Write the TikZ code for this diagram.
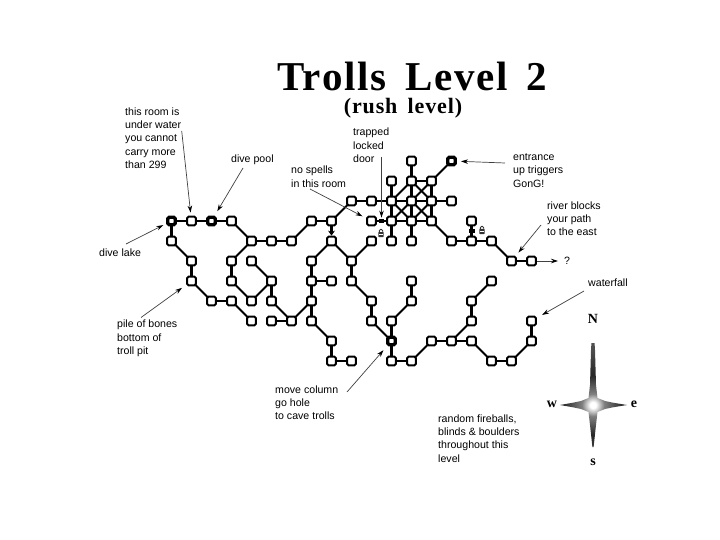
\documentclass[tikz,border=0pt]{standalone}
\usepackage{fontspec}
\setmainfont{Liberation Sans}
\newfontfamily\kserif{Liberation Serif}
\newfontfamily\ktitlefont[LetterSpace=4,WordSpace=1.6]{Liberation Serif}
\usetikzlibrary{arrows.meta,backgrounds}
\pgfdeclareradialshading{kstar}{\pgfpointorigin}{color(0bp)=(white);color(1.2bp)=(white);color(4.5bp)=(black!50);color(12bp)=(black!85);color(22bp)=(black!70);color(50bp)=(black!55)}
\tikzset{
  room/.style={draw,fill=white,line width=2pt,rounded corners=1.6pt,minimum size=8.8pt,inner sep=0pt},
  hotroom/.style={room,line width=3.3pt,minimum size=7.6pt},
  link/.style={line width=2.4pt},
  diag/.style={line width=1.8pt},
  pointer/.style={draw=black!75,line width=0.7pt,-{Stealth[length=7pt,width=4.5pt,black]}},
  note/.style={anchor=north west,inner sep=0pt,align=left,font=\fontsize{10.6}{13.3}\selectfont},
  doorbar/.style={fill=black,inner sep=0pt,minimum width=4.5pt,minimum height=4.5pt},
  compass/.style={inner sep=0pt,font=\kserif\bfseries\fontsize{14}{14}\selectfont},
  lockicon/.pic={
    \fill[black!80,rounded corners=.5pt](-2.6,-1)rectangle(2.6,4);
    \fill[white](-1.6,1)rectangle(1.6,2);
    \draw[black!80,line width=.9pt,rounded corners=1.3pt](-1.7,-1)--(-1.7,-3.7)--(1.7,-3.7)--(1.7,-1);
  }
}
\begin{document}
\begin{tikzpicture}[x=1pt,y=-1pt]
\pgfmathsetmacro{\kstep}{20}
\useasboundingbox(0,0)rectangle(720,540);
% rooms: column/row on the map grid
\foreach \kx/\ky in {12/0,11/1,12/1,13/1,9/2,10/2,11/2,12/2,13/2,14/2,1/3,3/3,7/3,8/3,10/3,11/3,12/3,13/3,15/3,
  0/4,4/4,5/4,6/4,8/4,10/4,11/4,12/4,14/4,15/4,16/4,1/5,3/5,4/5,7/5,9/5,17/5,18/5,
  1/6,3/6,5/6,7/6,8/6,9/6,12/6,16/6,2/7,3/7,4/7,5/7,7/7,10/7,12/7,15/7,
  4/8,5/8,6/8,7/8,10/8,11/8,15/8,18/8,8/9,13/9,14/9,15/9,18/9,8/10,9/10,11/10,12/10,16/10,17/10}{
  \node[room](n\kx-\ky) at (\kx*\kstep+171.5,\ky*\kstep+161){};
}
\foreach \kx/\ky in {14/0,0/3,2/3,11/9}{
  \node[hotroom](n\kx-\ky) at (\kx*\kstep+171.5,\ky*\kstep+161){};
}
\begin{scope}[on background layer]
% straight passages
\foreach \ka/\kb in {12-0/12-1,12-1/13-1,11-1/11-2,12-1/12-2,13-1/13-2,9-2/10-2,10-2/11-2,11-2/12-2,12-2/13-2,13-2/14-2,
  11-2/11-3,12-2/12-3,13-2/13-3,11-3/12-3,12-3/13-3,11-3/11-4,12-3/12-4,0-3/1-3,1-3/2-3,2-3/3-3,7-3/8-3,0-3/0-4,
  4-4/5-4,5-4/6-4,14-4/15-4,15-4/16-4,17-5/18-5,1-5/1-6,3-5/3-6,7-5/7-6,7-6/8-6,7-6/7-7,9-5/9-6,5-6/5-7,12-6/12-7,
  2-7/3-7,7-7/7-8,10-7/10-8,15-7/15-8,5-8/6-8,11-8/11-9,11-9/11-10,11-10/12-10,8-9/8-10,8-10/9-10,13-9/14-9,14-9/15-9,
  18-8/18-9,16-10/17-10,10-3/11-3,15-3/15-4}{
  \draw[link](n\ka.center)--(n\kb.center);
}
% diagonal passages
\foreach \ka/\kb in {14-0/13-1,11-2/12-1,12-1/13-2,13-1/12-2,11-2/12-3,12-2/11-3,12-2/13-3,13-2/12-3,13-3/14-4,
  3-3/4-4,6-4/7-3,8-3/9-2,0-4/1-5,4-4/3-5,8-4/7-5,8-4/9-5,9-5/10-4,4-5/5-6,5-6/4-7,3-6/4-7,1-6/2-7,3-7/4-8,
  5-7/6-8,6-8/7-7,7-8/8-9,9-6/10-7,10-8/11-9,11-8/12-7,12-10/13-9,16-4/17-5,16-6/15-7,15-8/14-9,15-9/16-10,17-10/18-9}{
  \draw[diag](n\ka.center)--(n\kb.center);
}
\end{scope}
\draw[link,-{Stealth[length=5pt,width=7pt]}](n8-3)--(n8-4);
% doors and locks
\node[doorbar](doorA) at (381.5,221){};
\node[doorbar,minimum width=6pt,minimum height=3pt](doorB) at (471.5,231){};
\pic at (381,233){lockicon};
\pic at (482,230){lockicon};
% free ends of the pointers
\foreach \kname/\kpx/\kpy in {pRoom/181.7/131,pPool/243/168,pLake/126/244,pBones/141/317.5,pSpells/310/189,pDoor/381.5/157,
  pEntrance/505/163,pRiver/541/225,pFall/584/291,pColumn/347/392,pEast/558/261}{
  \coordinate(\kname) at (\kpx,\kpy);
}
\foreach \kfrom/\kto/\kgap in {pRoom/n1-3/3,pPool/n2-3/5,pLake/n0-3/3,pBones/n1-6/5,pSpells/n10-3/4,pDoor/doorA/1,
  pEntrance/n14-0/4,pRiver/n17-5/4,pFall/n18-8/6,pColumn/n11-9/5}{
  \draw[pointer,shorten >=\kgap pt](\kfrom)--(\kto);
}
\draw[pointer](n18-5)--(pEast);
% labels
\node[note](tRoom) at (125,107.5){this room is\\under water\\you cannot\\carry more\\than 299};
\node[note](tPool) at (231,155){dive pool};
\node[note](tDoor) at (353,128){trapped\\locked\\door};
\node[note](tSpells) at (291,166){no spells\\in this room};
\node[note](tEntrance) at (513,153.5){entrance\\up triggers\\GonG!};
\node[note](tRiver) at (547,201.5){river blocks\\your path\\to the east};
\node[note](tEast) at (564,257){?};
\node[note](tFall) at (588,278.5){waterfall};
\node[note](tLake) at (99,249){dive lake};
\node[note](tBones) at (117,320){pile of bones\\bottom of\\troll pit};
\node[note](tColumn) at (275,385.5){move column\\go hole\\to cave trolls};
\node[note](tRandom) at (438,414.5){random fireballs,\\blinds \& boulders\\throughout this\\level};
% title
\node[inner sep=0pt,font=\ktitlefont\bfseries\fontsize{41}{41}\selectfont](tTitle) at (412,76){Trolls Level 2};
\node[inner sep=0pt,font=\ktitlefont\bfseries\fontsize{22}{22}\selectfont](tSub) at (403,108){(rush level)};
% compass
\begin{scope}
\clip(592.4,327)--(593.6,327)--(595,350)--(596,385)--(597.5,398)--(605,401)--(613,402.7)--(627,405)--(613,407.3)--(605,409)--(597.5,412)
  --(596,425)--(593.6,447)--(592.4,447)--(590,425)--(588.5,412)--(581,409)--(573,407.3)--(560,405)--(573,402.7)--(581,401)--(588.5,398)--(590,385)--(591,350)--cycle;
\shade[shading=kstar](593,405)circle[radius=62pt];
\end{scope}
\node[compass](cN) at (593,319){N};
\node[compass](cW) at (552,404){w};
\node[compass](cE) at (634,404){e};
\node[compass](cS) at (593,462){s};
\end{tikzpicture}
\end{document}
